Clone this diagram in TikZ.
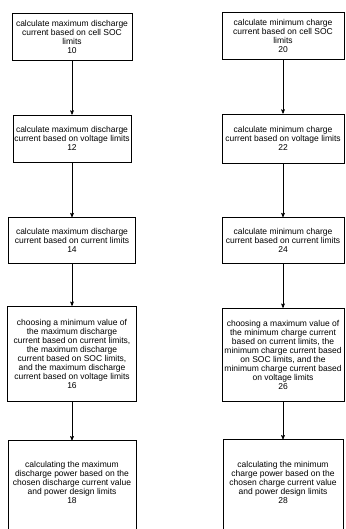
\documentclass[tikz,border=0pt]{standalone}
\usepackage{fontspec}
\newfontfamily\arialfont{Liberation Sans}
\usetikzlibrary{positioning, arrows}
\tikzset{
>=stealth', % arrow heads
stepbox/.style={draw=black, line width=0.6pt, align=center, inner xsep=1pt, inner ysep=3pt,
  font=\arialfont\fontsize{8.5}{9}\selectfont},
shortbox/.style={stepbox, minimum height=47pt},
longbox/.style={stepbox, minimum height=95pt},
flow/.style={->, line width=0.6pt}
}
\begin{document}
\begin{tikzpicture}[x=1pt, y=1pt, node distance=54pt]
\useasboundingbox (0,0) rectangle (345,-529);
% discharge side
\node[shortbox, minimum width=120pt, anchor=north] (dis10) at (72,-13)
  {calculate maximum discharge\\current based on cell SOC\\limits\\10};
\node[shortbox, minimum width=118pt, below=of dis10] (dis12)
  {calculate maximum discharge\\current based on voltage limits\\12};
\node[shortbox, minimum width=127pt, below=55pt of dis12, minimum height=46pt] (dis14)
  {calculate maximum discharge\\current based on current limits\\14};
\node[longbox, minimum width=129pt, below=42pt of dis14] (dis16)
  {choosing a minimum value of\\the maximum discharge\\current based on current limits,\\the maximum discharge\\current based on SOC limits,\\and the maximum discharge\\current based on voltage limits\\16};
\node[longbox, minimum width=128pt, below=39pt of dis16, minimum height=96pt, text depth=12pt] (dis18)
  {calculating the maximum\\discharge power based on the\\chosen discharge current value\\and power design limits\\18};
% charge side
\node[shortbox, minimum width=122pt, anchor=north] (chg20) at (283,-12)
  {calculate minimum charge\\current based on cell SOC\\limits\\20};
\node[shortbox, minimum width=122pt, below=of chg20, minimum height=49pt] (chg22)
  {calculate minimum charge\\current based on voltage limits\\22};
\node[shortbox, minimum width=122pt, below=of chg22, minimum height=46pt] (chg24)
  {calculate minimum charge\\current based on current limits\\24};
\node[longbox, minimum width=122pt, below=44pt of chg24, minimum height=93pt] (chg26)
  {choosing a maximum value of\\the minimum charge current\\based on current limits, the\\minimum charge current based\\on SOC limits, and the\\minimum charge current based\\on voltage limits\\26};
\node[longbox, minimum width=120pt, below=38pt of chg26, minimum height=98pt, text depth=12pt] (chg28)
  {calculating the minimum\\charge power based on the\\chosen charge current value\\and power design limits\\28};
% connectors
\foreach \a/\b in {dis10/dis12, dis12/dis14, dis14/dis16, dis16/dis18,
                   chg20/chg22, chg22/chg24, chg24/chg26, chg26/chg28}
  \draw[flow] (\a) -- (\b);
\end{tikzpicture}
\end{document}
